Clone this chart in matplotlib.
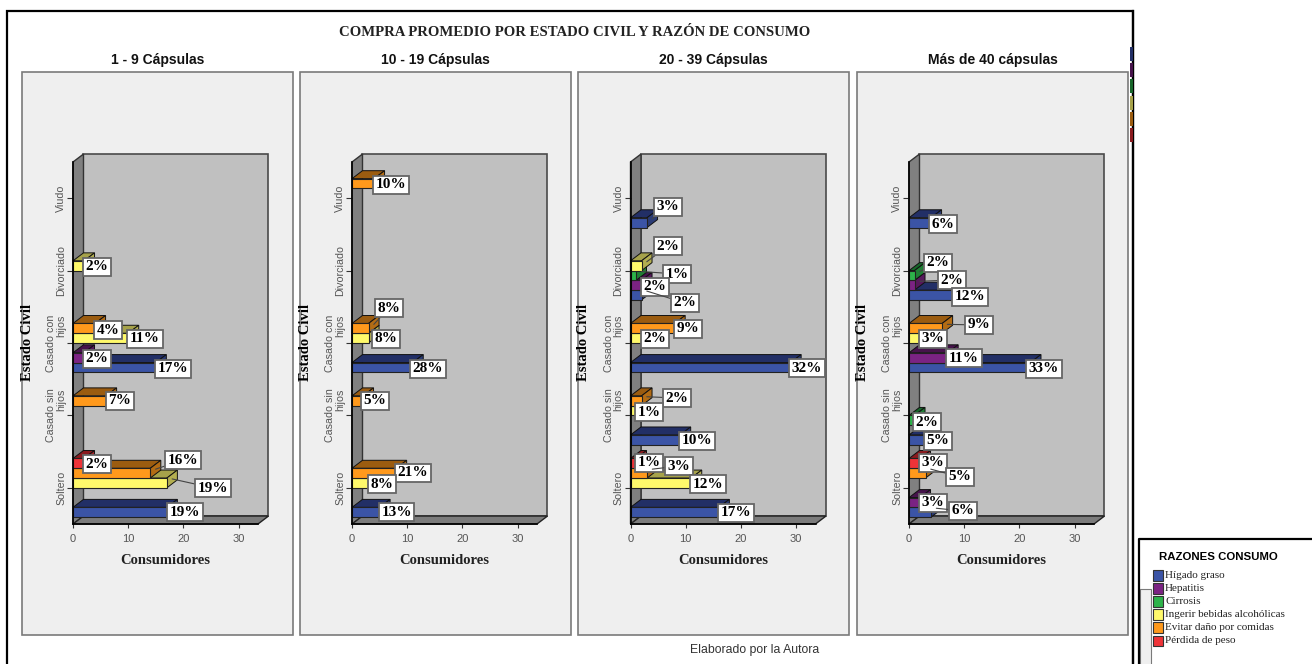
from matplotlib import pyplot as plt
from matplotlib.patches import Polygon, Rectangle

# --------------------------- Data ---------------------------

estados = ['Soltero', 'Casado sin\nhijos', 'Casado con\nhijos', 'Divorciado', 'Viudo']
razones = ['Hígado graso', 'Hepatitis', 'Cirrosis', 'Ingerir bebidas alcohólicas',
           'Evitar daño por comidas', 'Pérdida de peso']
titulos = ['1 - 9 Cápsulas', '10 - 19 Cápsulas', '20 - 39 Cápsulas', 'Más de 40 cápsulas']
xticks = [0, 10, 20, 30]

# One row per estado civil, one column per razón de consumo
capsulas_1_9 = [[17, 0, 0, 17, 14, 2],
                [0, 0, 0, 0, 6, 0],
                [15, 2, 0, 10, 4, 0],
                [0, 0, 0, 2, 0, 0],
                [0, 0, 0, 0, 0, 0]]
capsulas_10_19 = [[5, 0, 0, 3, 8, 0],
                  [0, 0, 0, 0, 2, 0],
                  [11, 0, 0, 3, 3, 0],
                  [0, 0, 0, 0, 0, 0],
                  [0, 0, 0, 0, 4, 0]]
capsulas_20_39 = [[16, 0, 0, 11, 3, 1],
                  [9, 0, 0, 1, 2, 0],
                  [29, 0, 0, 2, 8, 0],
                  [2, 2, 1, 2, 0, 0],
                  [3, 0, 0, 0, 0, 0]]
capsulas_40 = [[4, 2, 0, 0, 3, 2],
               [3, 0, 1, 0, 0, 0],
               [22, 7, 0, 2, 6, 0],
               [8, 1, 1, 0, 0, 0],
               [4, 0, 0, 0, 0, 0]]
paneles = [capsulas_1_9, capsulas_10_19, capsulas_20_39, capsulas_40]

# ------------------------- Styling --------------------------

colores = ['#3B54A6', '#7B2383', '#2DB34A', '#FFF96B', '#FF991C', '#EE3338']
tapas = ['#222F66', '#46134B', '#17662A', '#A6A24A', '#9B5C10', '#8A1A1E']
costados = ['#2A3B75', '#57185C', '#1F8034', '#B3AE50', '#B36C14', '#A3252A']

SERIF = 'Liberation Serif'
SANS = 'Liberation Sans'
BAR_H = 0.135
DEPTH_X = 1.9
DEPTH_Y = 0.11
XMAX = 33.5

panel_left = [22, 300, 578, 857]
origin_x = [73, 352, 630.5, 909]

# Label box centres in page pixels, keyed by (estado, razon)
label_xy = [
    {(0, 0): (185, 512), (0, 3): (213, 488), (0, 4): (183, 460), (0, 5): (97, 464),
     (1, 4): (120, 401), (2, 0): (173, 369), (2, 1): (97, 359), (2, 3): (145, 339),
     (2, 4): (108, 330), (3, 3): (97, 267)},
    {(0, 0): (396.5, 512), (0, 3): (382, 484), (0, 4): (413, 473), (1, 4): (375, 401),
     (2, 0): (428, 369), (2, 3): (386, 339), (2, 4): (389, 308), (4, 4): (391, 185)},
    {(0, 0): (736, 513), (0, 3): (708, 484), (0, 4): (679, 466), (0, 5): (649, 463),
     (1, 0): (697, 441), (1, 3): (649, 412), (1, 4): (677, 398), (2, 0): (807, 368),
     (2, 3): (655, 339), (2, 4): (688, 329), (3, 0): (685, 303), (3, 1): (655, 287),
     (3, 2): (677, 274), (3, 3): (668, 246), (4, 0): (668, 207)},
    {(0, 0): (963, 511), (0, 1): (933, 503), (0, 4): (960, 477), (0, 5): (933, 463),
     (1, 0): (938, 441), (1, 2): (927, 422), (2, 0): (1044, 369), (2, 1): (964, 358),
     (2, 3): (933, 339), (2, 4): (979, 325), (3, 0): (970, 297), (3, 1): (952, 280),
     (3, 2): (938, 263), (4, 0): (943, 224)},
]


# ---------------------- Plot Methods ------------------------

def px_axes(fig, left, top, right, bottom):
    w, h = 1312.0, 664.0
    return fig.add_axes([left / w, 1 - bottom / h, (right - left) / w, (bottom - top) / h])


def draw_walls(ax):
    lo, hi = -0.5, 4.5
    back = [(DEPTH_X, lo + DEPTH_Y), (XMAX + DEPTH_X, lo + DEPTH_Y),
            (XMAX + DEPTH_X, hi + DEPTH_Y), (DEPTH_X, hi + DEPTH_Y)]
    left = [(0, lo), (DEPTH_X, lo + DEPTH_Y), (DEPTH_X, hi + DEPTH_Y), (0, hi)]
    floor = [(0, lo), (XMAX, lo), (XMAX + DEPTH_X, lo + DEPTH_Y), (DEPTH_X, lo + DEPTH_Y)]
    ax.add_patch(Polygon(back, fc='#C0C0C0', ec='#4A4A4A', lw=1.2, clip_on=False, zorder=1))
    ax.add_patch(Polygon(left, fc='#808080', ec='#333333', lw=1, clip_on=False, zorder=1))
    ax.add_patch(Polygon(floor, fc='#7C7C7C', ec='#222222', lw=1, clip_on=False, zorder=1))


def draw_bar(ax, y, value, slot, z):
    bottom, top = y - BAR_H / 2, y + BAR_H / 2
    roof = [(0, top), (value, top), (value + DEPTH_X, top + DEPTH_Y), (DEPTH_X, top + DEPTH_Y)]
    side = [(value, bottom), (value + DEPTH_X, bottom + DEPTH_Y),
            (value + DEPTH_X, top + DEPTH_Y), (value, top)]
    ax.add_patch(Polygon(roof, fc=tapas[slot], ec='#111111', lw=0.7, clip_on=False, zorder=z))
    ax.add_patch(Polygon(side, fc=costados[slot], ec='#111111', lw=0.7, clip_on=False, zorder=z))
    ax.barh(y, value, BAR_H, color=colores[slot], edgecolor='#222222', linewidth=0.8, zorder=z)


def draw_panel(fig, page, idx):
    data = paneles[idx]
    total = sum(sum(row) for row in data)
    x0 = origin_x[idx]
    ax = px_axes(fig, x0, 162, x0 + 185, 524)
    ax.patch.set_visible(False)
    ax.set_xlim(0, XMAX)
    ax.set_ylim(-0.5, 4.5)
    draw_walls(ax)

    z = 3
    for e, row in enumerate(data):
        for s, value in enumerate(row):
            z += 1
            if value > 0:
                draw_bar(ax, e + (s - 2.5) * BAR_H, value, s, z)

    # Upper labels first so the lower ones sit on top where boxes overlap
    for (e, s), xy in reversed(list(label_xy[idx].items())):
        value = data[e][s]
        y = e + (s - 2.5) * BAR_H
        ax.annotate('{:.0f}%'.format(100.0 * value / total),
                    xy=(value + DEPTH_X / 2, y + DEPTH_Y / 2), xytext=xy,
                    textcoords=page.transData, ha='center', va='center',
                    family=SERIF, weight='bold', fontsize=11, color='black',
                    bbox=dict(boxstyle='square,pad=0.17', fc='white', ec='#666666', lw=1.3),
                    arrowprops=dict(arrowstyle='-', color='#444444', lw=0.8, shrinkA=0, shrinkB=0),
                    annotation_clip=False, zorder=100)

    for side in ['top', 'right']:
        ax.spines[side].set_visible(False)
    for side in ['left', 'bottom']:
        ax.spines[side].set_zorder(50)
        ax.spines[side].set_linewidth(1.2)
    ax.set_xticks(xticks)
    ax.set_yticks(range(len(estados)))
    ax.set_yticklabels(estados, rotation=90, va='center', ha='right', linespacing=1.0,
                       family=SANS, fontsize=7.7, color='#555555')
    ax.tick_params(axis='x', labelsize=8, labelcolor='#555555', length=3, pad=4, color='#333333')
    ax.tick_params(axis='y', length=4.3, pad=0.7, color='#333333')
    for t in ax.get_xticklabels():
        t.set_family(SANS)
    ax.set_xlabel('Consumidores', family=SERIF, weight='bold', fontsize=10.5, color='#222222')
    ax.xaxis.set_label_coords(0.5, -0.084)

    # Panel furniture lives on the page axes
    x = panel_left[idx]
    page.add_patch(Rectangle((x, 72), 271, 563, fc='#EFEFEF', ec='#7A7A7A', lw=1.2, zorder=1))
    page.text(x + 135.5, 60, titulos[idx], family=SANS, weight='bold', fontsize=10,
              color='#111111', ha='center', va='center')
    page.text(x + 5.5, 342, 'Estado Civil', family=SERIF, weight='bold', fontsize=10.5,
              rotation=90, ha='center', va='center')


def draw_legend(page):
    page.plot([1133, 1133], [11, 664], color='black', lw=1.6, zorder=2)
    page.plot([1139, 1139, 1312], [664, 539, 539], color='black', lw=1.6, zorder=2)
    page.add_patch(Rectangle((1140, 589), 11, 80, fc='#EFEFEF', ec='#7A7A7A', lw=0.8, zorder=1))
    page.text(1159, 557, 'RAZONES CONSUMO', family=SANS, weight='bold', fontsize=8.2,
              ha='left', va='center')
    row_y = 575
    for color, razon in zip(colores, razones):
        page.add_patch(Rectangle((1152.5, row_y - 5), 10.5, 10.5, fc=color, ec='#333333',
                                 lw=0.8, zorder=3))
        page.text(1165, row_y, razon, family=SERIF, fontsize=8, color='#222222',
                  ha='left', va='center')
        row_y += 13.1

    # Collapsed key squeezed against the frame
    for i, color in enumerate(tapas):
        page.add_patch(Rectangle((1130, 47 + i * 16.2), 2.5, 14, fc=color, ec='none', zorder=3))


fig = plt.figure(figsize=(13.12, 6.64), dpi=100, facecolor='white')
page = fig.add_axes([0, 0, 1, 1])
page.set_xlim(0, 1312)
page.set_ylim(664, 0)
page.axis('off')

page.add_patch(Rectangle((7, 11), 1126, 660, fc='white', ec='black', lw=1.6, zorder=0))
page.text(575, 32, 'COMPRA PROMEDIO POR ESTADO CIVIL Y RAZÓN DE CONSUMO', family=SERIF,
          weight='bold', fontsize=10.6, color='#222222', ha='center', va='center')
page.text(754.5, 650, 'Elaborado por la Autora', family=SANS, fontsize=8.8, color='#333333',
          ha='center', va='center')

for i in range(len(paneles)):
    draw_panel(fig, page, i)
draw_legend(page)

fig.savefig('out.png', dpi=100)
